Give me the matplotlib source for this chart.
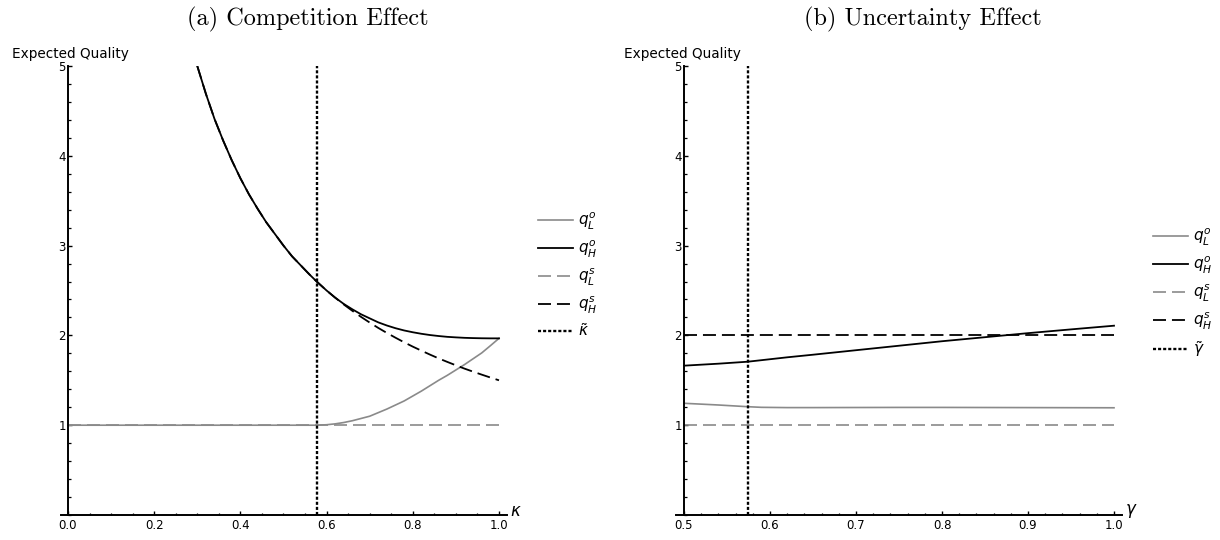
import matplotlib
matplotlib.use("Agg")
import matplotlib.pyplot as plt
from matplotlib.ticker import MultipleLocator, FixedLocator

# ---- panel (a): competition effect ----
kappa_hi = [0.30, 0.32, 0.34, 0.36, 0.38, 0.40, 0.42, 0.44, 0.46, 0.48, 0.50,
            0.52, 0.54, 0.56, 0.577, 0.60, 0.62, 0.64, 0.66, 0.68, 0.70, 0.72,
            0.74, 0.76, 0.78, 0.80, 0.82, 0.84, 0.86, 0.88, 0.90, 0.92, 0.94,
            0.96, 0.98, 1.00]
qH_open_a = [5.00, 4.69, 4.41, 4.17, 3.95, 3.75, 3.57, 3.41, 3.26, 3.13, 3.00,
             2.88, 2.78, 2.68, 2.60, 2.50, 2.42, 2.35, 2.29, 2.235, 2.19, 2.145,
             2.11, 2.08, 2.055, 2.035, 2.018, 2.004, 1.993, 1.984, 1.978, 1.973, 1.97,
             1.968, 1.967, 1.967]
qH_seq_a = [5.00, 4.69, 4.41, 4.17, 3.95, 3.75, 3.57, 3.41, 3.26, 3.13, 3.00,
            2.88, 2.78, 2.68, 2.60, 2.50, 2.42, 2.344, 2.273, 2.206, 2.143, 2.083,
            2.027, 1.974, 1.923, 1.875, 1.83, 1.786, 1.744, 1.705, 1.667, 1.63, 1.596,
            1.563, 1.531, 1.50]
kappa_lo = [0.00, 0.20, 0.40, 0.577, 0.60, 0.62, 0.64, 0.66, 0.68, 0.70, 0.72,
            0.74, 0.76, 0.78, 0.80, 0.82, 0.84, 0.86, 0.88, 0.90, 0.92, 0.94,
            0.96, 0.98, 1.00]
qL_open_a = [1.00, 1.00, 1.00, 1.00, 1.005, 1.015, 1.03, 1.05, 1.075, 1.10, 1.14,
             1.18, 1.225, 1.27, 1.325, 1.38, 1.44, 1.50, 1.555, 1.615, 1.675, 1.74,
             1.805, 1.885, 1.967]
kappa_seq_lo = [0.0, 1.0]
qL_seq_a = [1.0, 1.0]
kappa_tilde = 0.577

# ---- panel (b): uncertainty effect ----
gamma = [0.50, 0.54, 0.574, 0.59, 0.62, 0.65, 0.70, 0.75, 0.80, 0.85, 0.90, 0.95, 1.00]
qL_open_b = [1.244, 1.225, 1.206, 1.199, 1.196, 1.196, 1.197, 1.198, 1.198, 1.197,
             1.196, 1.195, 1.194]
qH_open_b = [1.663, 1.685, 1.707, 1.724, 1.756, 1.785, 1.835, 1.885, 1.935, 1.98,
             2.025, 2.067, 2.108]
gamma_seq = [0.5, 1.0]
qL_seq_b = [1.0, 1.0]
qH_seq_b = [2.0, 2.0]
gamma_tilde = 0.574

GREY = '#8a8a8a'
W, H = 1220.0, 540.0

fig = plt.figure(figsize=(12.2, 5.4), dpi=100)


def style_axes(ax, x0, xmin, xmax, xmajor, xminor):
    ax.set_xlim(xmin, xmax)
    ax.set_ylim(0, 5)
    for s in ['top', 'right']:
        ax.spines[s].set_visible(False)
    ax.spines['left'].set_position(('data', x0))
    ax.spines['left'].set_bounds(0, 5)
    ax.spines['left'].set_linewidth(1.4)
    ax.spines['bottom'].set_linewidth(1.4)
    ax.xaxis.set_major_locator(FixedLocator(xmajor))
    ax.xaxis.set_minor_locator(MultipleLocator(xminor))
    ax.set_xticklabels(['%.1f' % v for v in xmajor])
    ax.yaxis.set_major_locator(FixedLocator([1, 2, 3, 4, 5]))
    ax.yaxis.set_minor_locator(MultipleLocator(0.2))
    ax.tick_params(which='major', direction='in', length=3, width=1.0,
                   labelsize=8.5, pad=3)
    ax.tick_params(which='minor', direction='in', length=1.8, width=0.9)
    ax.tick_params(axis='y', which='major', pad=1.5)
    ax.set_facecolor('none')


def draw_panel(ax, xs_lo, lo_open, xs_hi, hi_open, xs_seq_lo, lo_seq, xs_seq_hi, hi_seq,
               xtilde, tilde_label):
    ax.plot(xs_lo, lo_open, color=GREY, lw=1.2, label=r'$q_L^o$')
    ax.plot(xs_hi, hi_open, color='black', lw=1.3, label=r'$q_H^o$')
    ax.plot(xs_seq_lo, lo_seq, color=GREY, lw=1.2, ls=(0, (7.8, 3.6)), label=r'$q_L^s$')
    ax.plot(xs_seq_hi, hi_seq, color='black', lw=1.3, ls=(0, (7.2, 3.3)), label=r'$q_H^s$')
    ax.plot([xtilde, xtilde], [0, 5], color='black', lw=1.7,
            ls=(0, (1.3, 0.85)), label=tilde_label)


# left panel: y axis at x=68px, 431 px per unit, axis line 61..507 px
axa = fig.add_axes([61 / W, 25 / H, 446 / W, 449 / H])
draw_panel(axa, kappa_lo, qL_open_a, kappa_hi, qH_open_a,
           kappa_seq_lo, qL_seq_a, kappa_hi, qH_seq_a, kappa_tilde, r'$\tilde{\kappa}$')
style_axes(axa, 0.0, -0.0162, 1.0186, [0.0, 0.2, 0.4, 0.6, 0.8, 1.0], 0.05)
axa.text(1.026, 0.01, r'$\kappa$', fontsize=12, va='center', ha='left',
         transform=axa.get_xaxis_transform())
axa.legend(loc='center left', bbox_to_anchor=(538 / W, 1 - 275 / H),
           bbox_transform=fig.transFigure, frameon=False, fontsize=11,
           handlelength=2.3, labelspacing=0.45, handletextpad=0.35,
           borderpad=0, borderaxespad=0)

# right panel: y axis at x=684px, 860 px per unit, axis line 676..1122 px
axb = fig.add_axes([676 / W, 25 / H, 446 / W, 449 / H])
draw_panel(axb, gamma, qL_open_b, gamma, qH_open_b,
           gamma_seq, qL_seq_b, gamma_seq, qH_seq_b, gamma_tilde, r'$\tilde{\gamma}$')
style_axes(axb, 0.5, 0.4907, 1.0093, [0.5, 0.6, 0.7, 0.8, 0.9, 1.0], 0.02)
axb.text(1.013, 0.01, r'$\gamma$', fontsize=12, va='center', ha='left',
         transform=axb.get_xaxis_transform())
axb.legend(loc='center left', bbox_to_anchor=(1153 / W, 1 - 293 / H),
           bbox_transform=fig.transFigure, frameon=False, fontsize=11,
           handlelength=2.3, labelspacing=0.45, handletextpad=0.35,
           borderpad=0, borderaxespad=0)

fig.text(12 / W, 1 - 54 / H, 'Expected Quality', fontsize=9.8, va='center', ha='left')
fig.text(624 / W, 1 - 54 / H, 'Expected Quality', fontsize=9.8, va='center', ha='left')
fig.text(308 / W, 1 - 19 / H, '(a) Competition Effect', fontsize=17.5,
         family=['cmr10', 'DejaVu Serif'], va='center', ha='center')
fig.text(923 / W, 1 - 19 / H, '(b) Uncertainty Effect', fontsize=17.5,
         family=['cmr10', 'DejaVu Serif'], va='center', ha='center')

fig.savefig('out.png', dpi=100)
